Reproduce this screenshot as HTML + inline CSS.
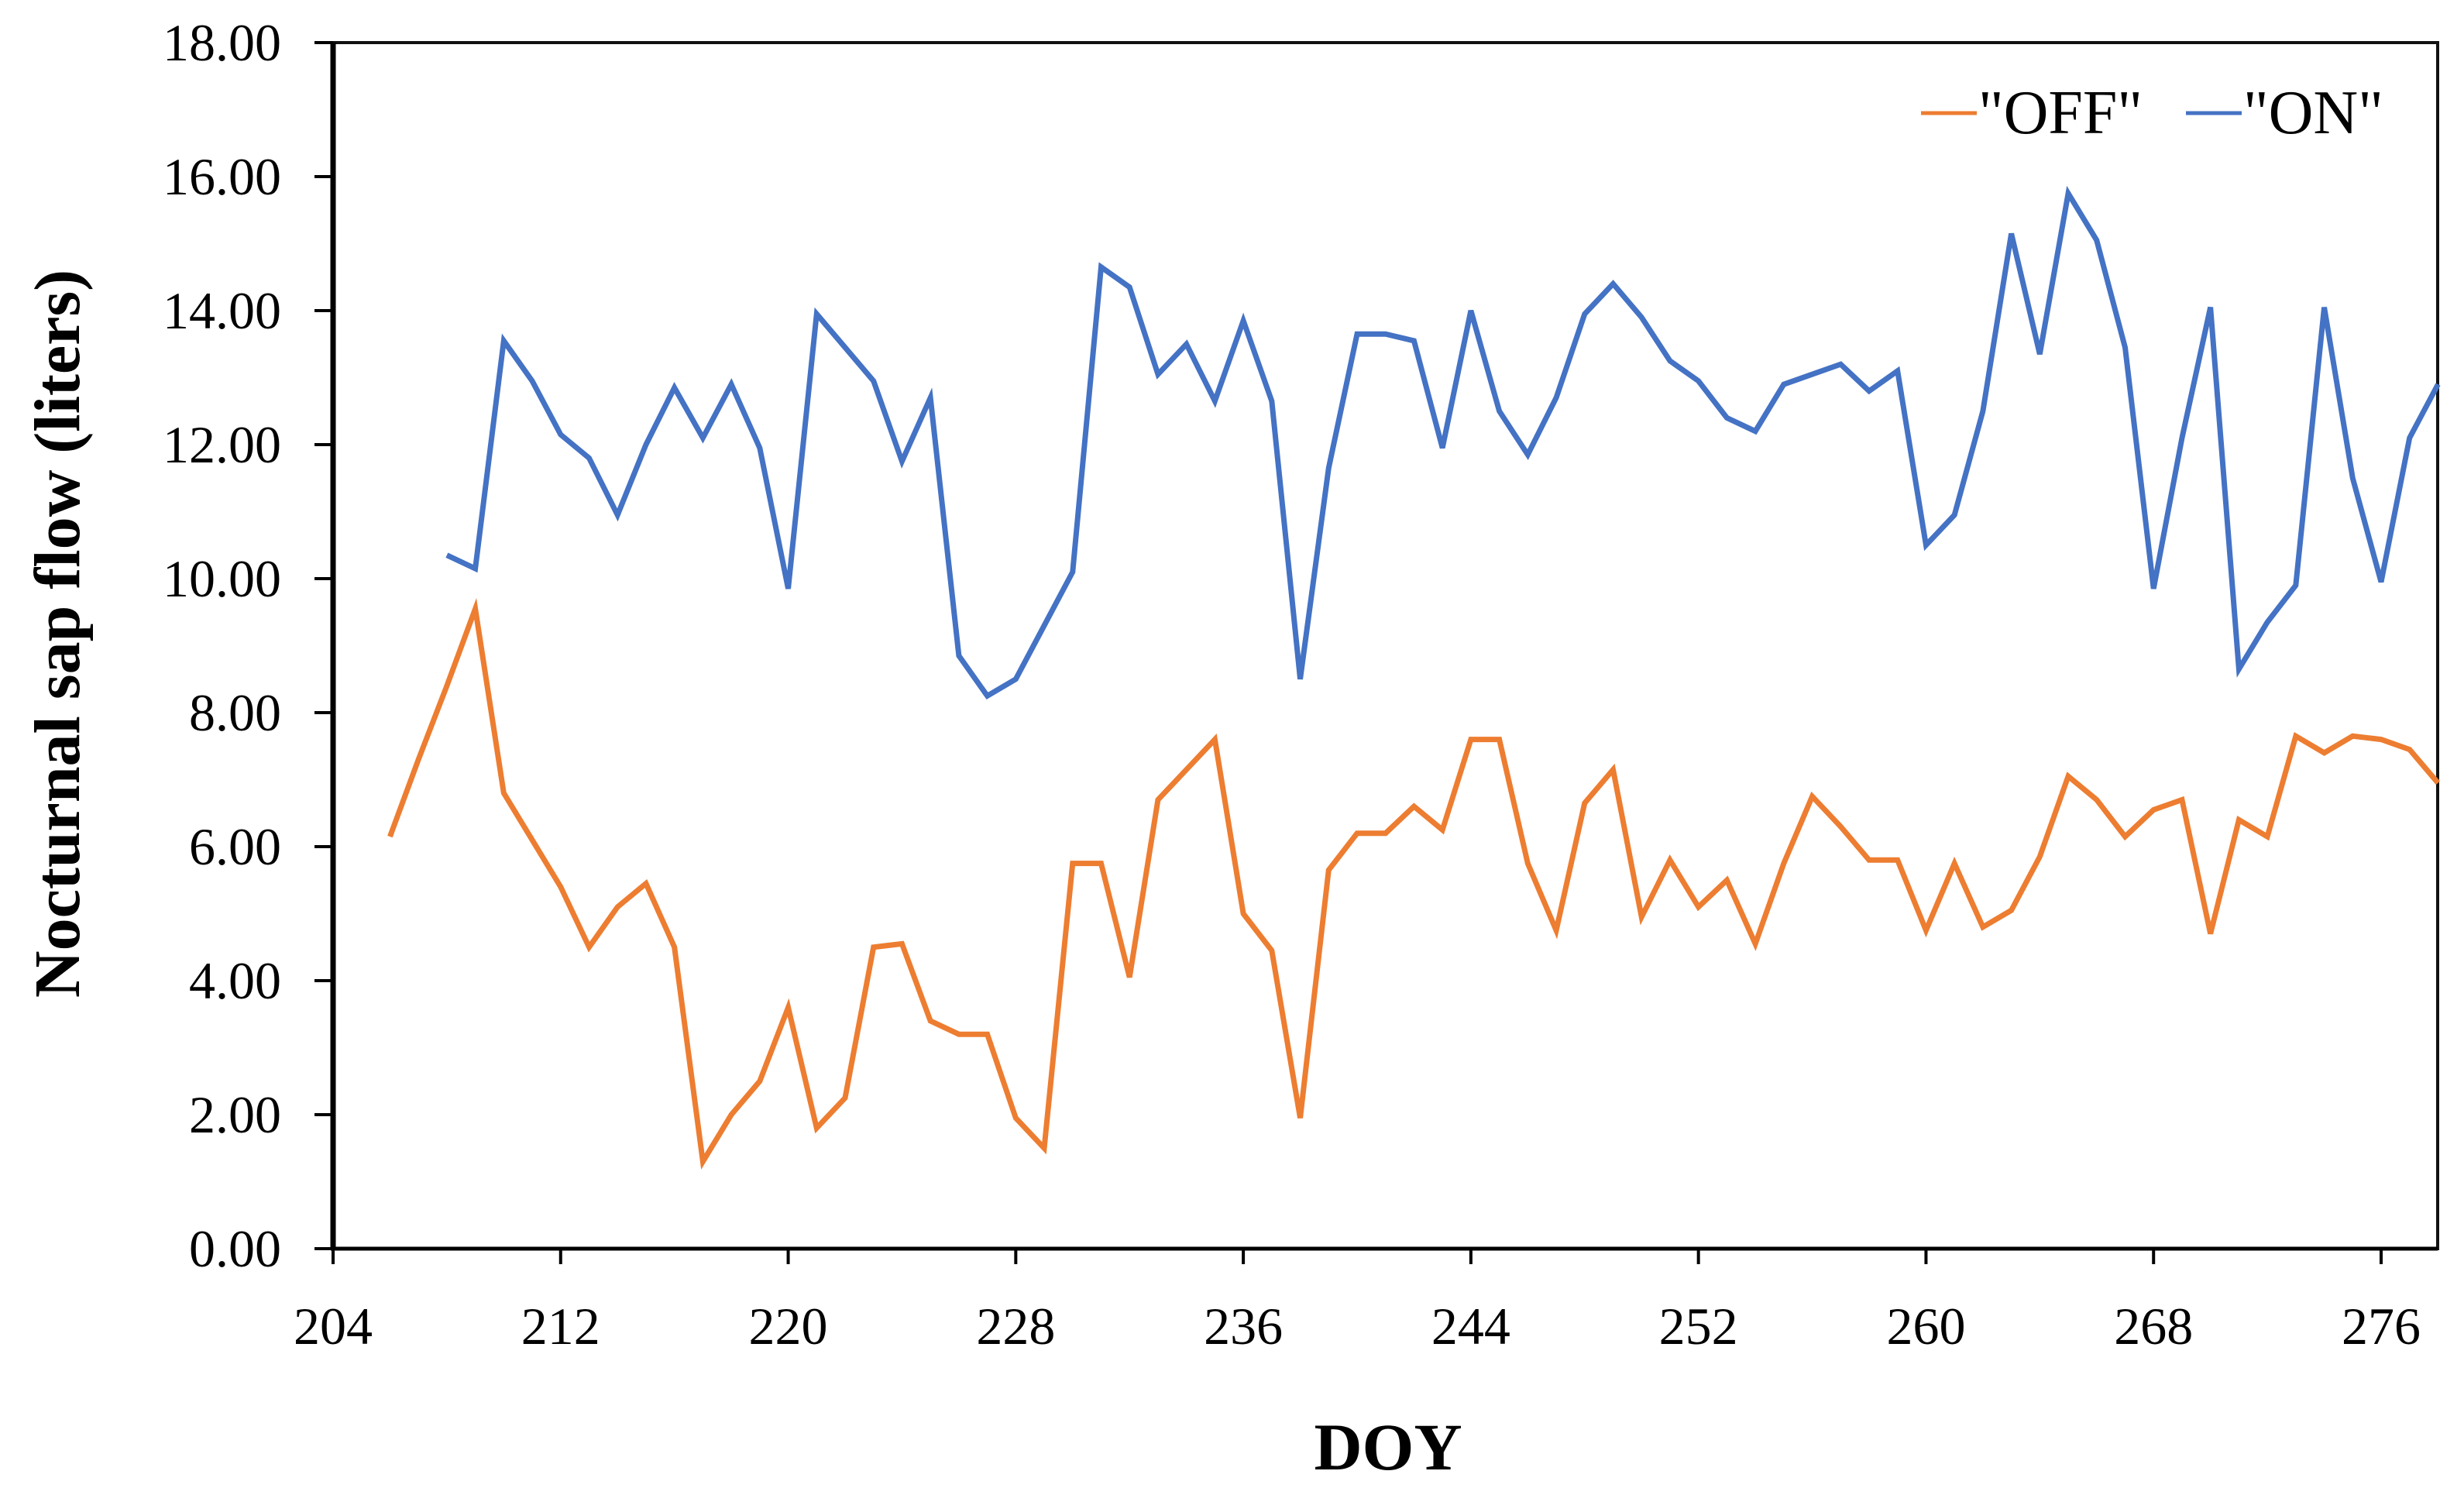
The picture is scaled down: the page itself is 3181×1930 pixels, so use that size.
<!DOCTYPE html>
<html><head><meta charset="utf-8"><style>
html,body{margin:0;padding:0;background:#fff;}
svg{display:block;}
text{font-family:"Liberation Serif",serif;fill:#000;}
</style></head><body>
<svg id="chart" width="3181" height="1930" viewBox="0 0 3181 1930" xmlns="http://www.w3.org/2000/svg">
<rect x="0" y="0" width="3181" height="1930" fill="#fff"/>
<g id="axes"></g>
<g id="series"></g>
<text transform="translate(102,818) rotate(-90)" text-anchor="middle" font-size="84" font-weight="bold">Nocturnal sap flow (liters)</text>
<text x="1792" y="1897" text-anchor="middle" font-size="86" font-weight="bold">DOY</text>
<g>
<line x1="2480" y1="146" x2="2552" y2="146" stroke="#ED7D31" stroke-width="5"/>
<text x="2554" y="172" font-size="80">"OFF"</text>
<line x1="2822" y1="146" x2="2894" y2="146" stroke="#4472C4" stroke-width="5"/>
<text x="2896" y="172" font-size="80">"ON"</text>
</g>
</svg>
<script>
const offDays = [206,207,208,209,210,211,212,213,214,215,216,217,218,219,220,221,222,223,224,225,226,227,228,229,230,231,232,233,234,235,236,237,238,239,240,241,242,243,244,245,246,247,248,249,250,251,252,253,254,255,256,257,258,259,260,261,262,263,264,265,266,267,268,269,270,271,272,273,274,275,276,277,278];
const offValues = [6.15,7.3,8.4,9.55,6.8,6.1,5.4,4.5,5.1,5.45,4.5,1.3,2.0,2.5,3.6,1.8,2.25,4.5,4.55,3.4,3.2,3.2,1.95,1.5,5.75,5.75,4.05,6.7,7.15,7.6,5.0,4.45,1.95,5.65,6.2,6.2,6.6,6.25,7.6,7.6,5.75,4.75,6.65,7.15,4.95,5.8,5.1,5.5,4.55,5.75,6.75,6.3,5.8,5.8,4.75,5.75,4.8,5.05,5.85,7.05,6.7,6.15,6.55,6.7,4.7,6.4,6.15,7.65,7.4,7.65,7.6,7.45,6.95];
const onDays = [208,209,210,211,212,213,214,215,216,217,218,219,220,221,222,223,224,225,226,227,228,229,230,231,232,233,234,235,236,237,238,239,240,241,242,243,244,245,246,247,248,249,250,251,252,253,254,255,256,257,258,259,260,261,262,263,264,265,266,267,268,269,270,271,272,273,274,275,276,277,278];
const onValues = [10.35,10.15,13.55,12.95,12.15,11.8,10.95,12.0,12.85,12.1,12.9,11.95,9.85,13.95,13.45,12.95,11.75,12.7,8.85,8.25,8.5,9.3,10.1,14.65,14.35,13.05,13.5,12.65,13.85,12.65,8.5,11.65,13.65,13.65,13.55,11.95,14.0,12.5,11.85,12.7,13.95,14.4,13.9,13.25,12.95,12.4,12.2,12.9,13.05,13.2,12.8,13.1,10.5,10.95,12.5,15.15,13.35,15.75,15.05,13.45,9.85,12.1,14.05,8.65,9.35,9.9,14.05,11.5,9.95,12.1,12.9];
const yTicks = [0,2,4,6,8,10,12,14,16,18];
const xTicks = [204,212,220,228,236,244,252,260,268,276];

const NS="http://www.w3.org/2000/svg";
const L=430,R=3147,T=55,B=1612;
const xs=d=>430+(d-204)*(3074-430)/72;
const ys=v=>B-(v/18)*(B-T);
function mk(tag,attrs,parent){const e=document.createElementNS(NS,tag);for(const k in attrs)e.setAttribute(k,attrs[k]);parent.appendChild(e);return e;}
const axes=document.getElementById('axes');
const frame=mk('rect',{x:L,y:T,width:R-L,height:B-T,fill:'none',stroke:'#111','stroke-width':4},axes);


const yl=mk('line',{x1:L,y1:T,x2:L,y2:B+2,stroke:'#000','stroke-width':7},axes);


const xl=mk('line',{x1:L-3,y1:B,x2:R,y2:B,stroke:'#000','stroke-width':5},axes);


yTicks.forEach(v=>{
  const t=mk('line',{x1:L-24,y1:ys(v),x2:L,y2:ys(v),stroke:'#000','stroke-width':4},axes);
  
  
  const tx=mk('text',{x:363,y:ys(v)+23,'text-anchor':'end','font-size':68},axes);
  tx.textContent=v.toFixed(2);
  
  
});
xTicks.forEach(d=>{
  const t=mk('line',{x1:xs(d),y1:B,x2:xs(d),y2:B+20,stroke:'#000','stroke-width':4},axes);
  
  
  const tx=mk('text',{x:xs(d),y:1735,'text-anchor':'middle','font-size':68},axes);
  tx.textContent=d;
  
  
});
const ser=document.getElementById('series');
const p1=mk('polyline',{points:offDays.map((d,i)=>xs(d)+','+ys(offValues[i])).join(' '),fill:'none',stroke:'#ED7D31','stroke-width':7,'stroke-linejoin':'miter'},ser);


const p2=mk('polyline',{points:onDays.map((d,i)=>xs(d)+','+ys(onValues[i])).join(' '),fill:'none',stroke:'#4472C4','stroke-width':7,'stroke-linejoin':'miter'},ser);


</script>
</body></html>
